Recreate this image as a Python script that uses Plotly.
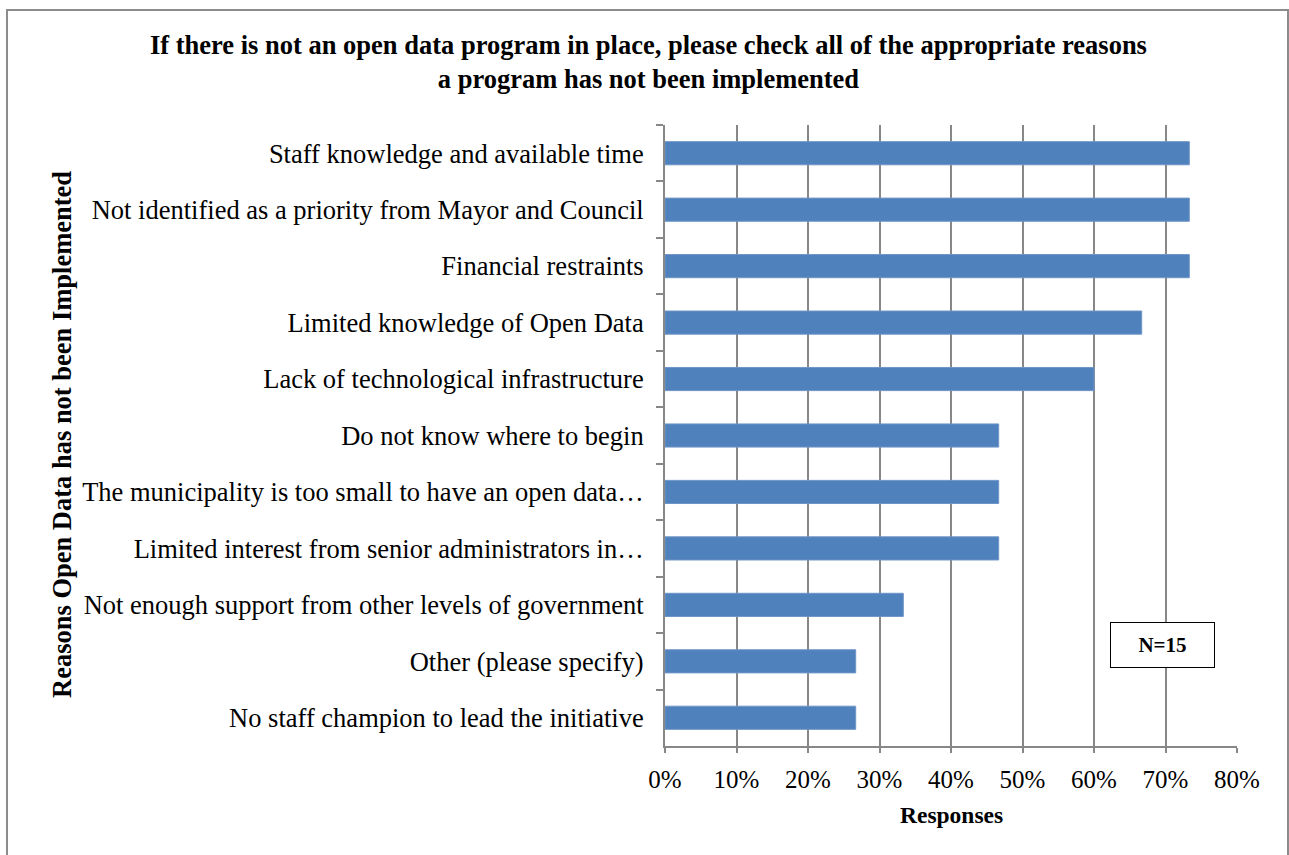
import plotly.graph_objects as go

# Survey responses (N=15): share of respondents selecting each reason
reasons = [
    "Staff knowledge and available time",
    "Not identified as a priority from Mayor and Council",
    "Financial restraints",
    "Limited knowledge of Open Data",
    "Lack of technological infrastructure",
    "Do not know where to begin",
    "The municipality is too small to have an open data…",
    "Limited interest from senior administrators in…",
    "Not enough support from other levels of government",
    "Other (please specify)",
    "No staff champion to lead the initiative",
]
shares = [0.7333, 0.7333, 0.7333, 0.6667, 0.6000, 0.4667, 0.4667, 0.4667, 0.3333, 0.2667, 0.2667]
x_ticks = [0, 0.1, 0.2, 0.3, 0.4, 0.5, 0.6, 0.7, 0.8]
x_tick_text = ["0%", "10%", "20%", "30%", "40%", "50%", "60%", "70%", "80%"]

SERIF = "Times New Roman, Liberation Serif, serif"
W, H = 1289, 855
L, R, T, B = 665, 52, 125, 109
PW, PH = W - L - R, H - T - B


def px_x(p):
    return (p - L) / PW


def px_y(p):
    return (H - B - p) / PH


fig = go.Figure(
    go.Bar(
        x=shares,
        y=reasons,
        orientation="h",
        marker=dict(color="#4F81BD", line=dict(color="#6E95C6", width=1)),
        width=0.41,
    )
)

fig.update_layout(
    width=W,
    height=H,
    margin=dict(l=L, r=R, t=T, b=B, autoexpand=False),
    paper_bgcolor="white",
    plot_bgcolor="white",
    showlegend=False,
    font=dict(family=SERIF, color="black"),
)

fig.update_xaxes(
    range=[0, 0.8],
    tickvals=x_ticks,
    ticktext=x_tick_text,
    tickfont=dict(family=SERIF, size=25, color="black"),
    showgrid=True,
    gridcolor="#878787",
    gridwidth=2,
    showline=True,
    linecolor="#878787",
    linewidth=2,
    ticks="outside",
    ticklen=5,
    tickwidth=2,
    tickcolor="#878787",
    ticklabelstandoff=5,
    zeroline=False,
    fixedrange=True,
)

fig.update_yaxes(
    categoryorder="array",
    categoryarray=reasons,
    autorange="reversed",
    tickfont=dict(family=SERIF, size=26.5, color="black"),
    showgrid=False,
    showline=True,
    linecolor="#878787",
    linewidth=2,
    ticks="outside",
    tickson="boundaries",
    ticklen=7,
    tickwidth=2,
    tickcolor="#878787",
    ticklabelstandoff=14,
    fixedrange=True,
)

annotations = [
    dict(
        text="<b>If there is not an open data program in place, please check all of the appropriate reasons<br>a program has not been implemented</b>",
        x=px_x(648), y=px_y(62), xref="paper", yref="paper",
        xanchor="center", yanchor="middle", showarrow=False, align="center",
        font=dict(family=SERIF, size=26.5, color="black"),
    ),
    dict(
        text="<b>Reasons Open Data has not been Implemented</b>",
        x=px_x(62), y=px_y(435), xref="paper", yref="paper",
        xanchor="center", yanchor="middle", showarrow=False, textangle=-90,
        font=dict(family=SERIF, size=26.5, color="black"),
    ),
    dict(
        text="<b>Responses</b>",
        x=px_x(951), y=px_y(815), xref="paper", yref="paper",
        xanchor="center", yanchor="middle", showarrow=False,
        font=dict(family=SERIF, size=23.5, color="black"),
    ),
    dict(
        text="<b>N=15</b>",
        x=px_x(1162.5), y=px_y(645), xref="paper", yref="paper",
        xanchor="center", yanchor="middle", showarrow=False,
        width=103, height=44, borderpad=0,
        bgcolor="white", bordercolor="black", borderwidth=1,
        font=dict(family=SERIF, size=21, color="black"),
    ),
]
fig.update_layout(annotations=annotations)

# chart frame
fig.add_shape(
    type="rect", xref="paper", yref="paper",
    x0=px_x(7), x1=px_x(1288), y0=px_y(870), y1=px_y(10),
    line=dict(color="#8C8C8C", width=2), fillcolor="rgba(0,0,0,0)", layer="below",
)

fig.write_html("out.html")
